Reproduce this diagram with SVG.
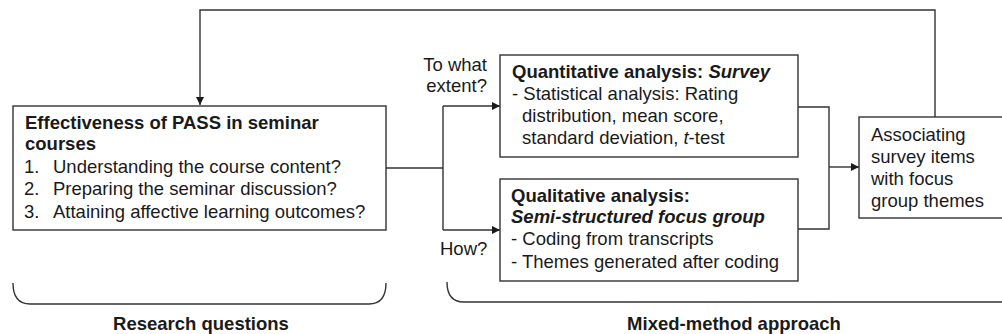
<svg xmlns="http://www.w3.org/2000/svg" width="1002" height="334" viewBox="0 0 1002 334">
<style>
text{font-family:"Liberation Sans",Arial,Helvetica,sans-serif;font-size:18.5px;fill:#1a1a1a}
.b{font-weight:bold}
.bi{font-weight:bold;font-style:italic}
.i{font-style:italic}
.box{fill:#fff;stroke:#333;stroke-width:1.4}
.ln{fill:none;stroke:#333;stroke-width:1.4}
</style>
<defs>
<marker id="ah" viewBox="0 0 10 10" refX="10" refY="5" markerWidth="8" markerHeight="8" markerUnits="userSpaceOnUse" orient="auto">
<path d="M0,0 L10,5 L0,10 z" fill="#1a1a1a"/>
</marker>
</defs>
<g id="connectors">
<path class="ln" d="M935,117 V10 H200 V105" marker-end="url(#ah)"/>
<path class="ln" d="M386,168 H443"/>
<path class="ln" d="M443,106 V230"/>
<path class="ln" d="M443,106 H500" marker-end="url(#ah)"/>
<path class="ln" d="M443,230 H500" marker-end="url(#ah)"/>
<path class="ln" d="M798,107 H829 V229 H798"/>
<path class="ln" d="M829,167 H859" marker-end="url(#ah)"/>
</g>
<g id="rq">
<rect class="box" x="13" y="106" width="373" height="124"/>
<text class="b" x="25" y="129">Effectiveness of PASS in seminar</text>
<text class="b" x="25" y="150">courses</text>
<text x="24" y="173">1.</text><text x="53" y="173">Understanding the course content?</text>
<text x="24" y="195">2.</text><text x="53" y="195">Preparing the seminar discussion?</text>
<text x="24" y="218">3.</text><text x="53" y="218">Attaining affective learning outcomes?</text>
</g>
<g id="quant">
<rect class="box" x="500" y="55" width="298" height="102"/>
<text class="b" x="512" y="78">Quantitative analysis: <tspan class="bi">Survey</tspan></text>
<text x="512" y="100">- Statistical analysis: Rating</text>
<text x="522" y="122">distribution, mean score,</text>
<text x="522" y="144">standard deviation, <tspan class="i">t</tspan>-test</text>
</g>
<g id="qual">
<rect class="box" x="500" y="179" width="298" height="102"/>
<text class="b" x="511" y="202">Qualitative analysis:</text>
<text class="bi" x="511" y="223">Semi-structured focus group</text>
<text x="511" y="245">- Coding from transcripts</text>
<text x="511" y="268">- Themes generated after coding</text>
</g>
<g id="assoc">
<rect class="box" x="859" y="117" width="150" height="101"/>
<text x="871" y="141">Associating</text>
<text x="871" y="163">survey items</text>
<text x="871" y="185">with focus</text>
<text x="871" y="207">group themes</text>
</g>
<g id="labels">
<text x="487" y="71" text-anchor="end">To what</text>
<text x="487" y="92" text-anchor="end">extent?</text>
<text x="440" y="255">How?</text>
</g>
<g id="brace-rq">
<path class="ln" d="M13,283 Q13,304 30,304 H369 Q386,304 386,283"/>
<text class="b" x="201" y="330" text-anchor="middle">Research questions</text>
</g>
<g id="brace-mm">
<path class="ln" d="M447,282 Q447,302 464,302 H1002"/>
<text class="b" x="734" y="330" text-anchor="middle">Mixed-method approach</text>
</g>
</svg>
